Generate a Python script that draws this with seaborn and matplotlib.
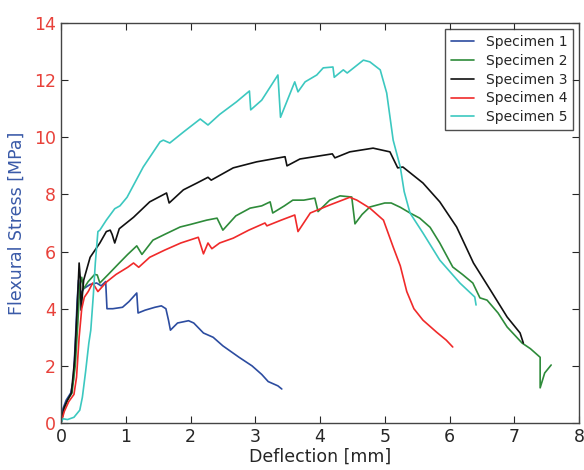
import matplotlib
matplotlib.use('Agg')
import matplotlib.pyplot as plt
import seaborn as sns

# 数据
spec1_x = [0, 0.03, 0.08, 0.15, 0.19, 0.22, 0.25, 0.27, 0.30, 0.35, 0.45, 0.55, 0.62, 0.69, 0.71,
           0.8, 0.95, 1.05, 1.17, 1.19, 1.3, 1.45, 1.55, 1.62, 1.66, 1.69, 1.8, 1.97, 2.05, 2.2,
           2.35, 2.5, 2.75, 2.95, 3.1, 3.2, 3.35, 3.41]
spec1_y = [0, 0.5, 0.8, 1.05, 1.5, 2.8, 4.3, 5.0, 4.5, 4.7, 4.85, 4.9, 4.8, 4.95, 4.0,
           4.0, 4.05, 4.25, 4.55, 3.85, 3.95, 4.05, 4.1, 4.0, 3.6, 3.25, 3.5, 3.58, 3.5, 3.15,
           3.0, 2.7, 2.3, 2.0, 1.7, 1.45, 1.3, 1.19]

spec2_x = [0, 0.05, 0.1, 0.17, 0.22, 0.26, 0.29, 0.32, 0.35, 0.42, 0.52, 0.56, 0.6, 0.73, 0.9,
           1.03, 1.17, 1.25, 1.42, 1.6, 1.84, 2.0, 2.25, 2.41, 2.5, 2.7, 2.92, 3.1, 3.23, 3.27,
           3.45, 3.58, 3.75, 3.92, 3.97, 4.15, 4.31, 4.49, 4.54, 4.65, 4.77, 5.0, 5.1, 5.24, 5.39,
           5.54, 5.7, 5.85, 6.05, 6.2, 6.36, 6.47, 6.58, 6.75, 6.89, 7.12, 7.25, 7.4, 7.4, 7.47,
           7.57]
spec2_y = [0, 0.5, 0.8, 1.05, 2.0, 3.5, 4.8, 5.1, 4.7, 4.95, 5.2, 5.18, 4.9, 5.2, 5.6,
           5.9, 6.2, 5.9, 6.4, 6.6, 6.86, 6.95, 7.1, 7.17, 6.75, 7.25, 7.52, 7.6, 7.74, 7.35,
           7.6, 7.8, 7.8, 7.87, 7.4, 7.8, 7.95, 7.91, 6.97, 7.3, 7.56, 7.7, 7.7, 7.55, 7.35,
           7.17, 6.85, 6.3, 5.46, 5.2, 4.9, 4.38, 4.3, 3.85, 3.36, 2.8, 2.6, 2.3, 1.23, 1.75,
           2.03]

spec3_x = [0, 0.05, 0.1, 0.16, 0.21, 0.25, 0.28, 0.3, 0.31, 0.35, 0.45, 0.6, 0.7, 0.76, 0.79,
           0.83, 0.9, 1.12, 1.37, 1.63, 1.67, 1.89, 2.1, 2.27, 2.32, 2.66, 3.02, 3.46, 3.49, 3.69,
           4.19, 4.23, 4.46, 4.82, 5.08, 5.2, 5.28, 5.59, 5.85, 6.11, 6.37, 6.63, 6.89, 7.09, 7.14]
spec3_y = [0, 0.55, 0.8, 1.05, 2.2, 4.0, 5.6, 5.0, 3.95, 5.0, 5.8, 6.3, 6.7, 6.75, 6.6,
           6.3, 6.8, 7.2, 7.74, 8.05, 7.7, 8.16, 8.4, 8.6, 8.5, 8.93, 9.14, 9.32, 9.0, 9.24,
           9.42, 9.28, 9.49, 9.62, 9.49, 8.93, 8.96, 8.4, 7.74, 6.86, 5.6, 4.66, 3.71, 3.15, 2.8]

spec4_x = [0, 0.05, 0.12, 0.2, 0.24, 0.28, 0.32, 0.36, 0.42, 0.49, 0.57, 0.7, 0.85, 1.03, 1.12,
           1.2, 1.37, 1.6, 1.85, 2.12, 2.2, 2.27, 2.33, 2.45, 2.66, 2.9, 3.15, 3.18, 3.4, 3.61,
           3.66, 3.85, 4.15, 4.46, 4.57, 4.77, 4.98, 5.13, 5.24, 5.34, 5.45, 5.59, 5.8, 5.95, 6.05]
spec4_y = [0, 0.4, 0.75, 1.0, 1.6, 3.0, 4.0, 4.4, 4.6, 4.9, 4.6, 4.93, 5.2, 5.45, 5.6,
           5.45, 5.8, 6.05, 6.3, 6.5, 5.92, 6.3, 6.1, 6.3, 6.47, 6.75, 7.0, 6.9, 7.1, 7.28,
           6.7, 7.35, 7.63, 7.9, 7.8, 7.52, 7.1, 6.16, 5.5, 4.6, 4.0, 3.6, 3.18, 2.9, 2.66]

spec5_x = [0, 0.03, 0.1, 0.2, 0.29, 0.33, 0.38, 0.43, 0.46, 0.5, 0.53, 0.57, 0.6, 0.7, 0.83,
           0.91, 1.02, 1.27, 1.53, 1.58, 1.68, 1.9, 2.15, 2.27, 2.45, 2.71, 2.91, 2.93, 3.1, 3.35,
           3.39, 3.61, 3.66, 3.77, 3.95, 4.05, 4.2, 4.22, 4.36, 4.42, 4.67, 4.77, 4.93, 5.03, 5.13,
           5.2, 5.24, 5.3, 5.39, 5.59, 5.85, 6.16, 6.39, 6.41]
spec5_y = [0, 0.15, 0.12, 0.2, 0.45, 0.9, 1.8, 2.8, 3.25, 4.5, 5.6, 6.7, 6.75, 7.1, 7.5,
           7.6, 7.9, 8.96, 9.84, 9.9, 9.8, 10.2, 10.64, 10.43, 10.8, 11.24, 11.62, 10.96, 11.3, 12.18,
           10.7, 11.94, 11.59, 11.94, 12.18, 12.43, 12.46, 12.1, 12.36, 12.25, 12.7, 12.64, 12.36, 11.55, 9.9,
           9.3, 8.96, 8.1, 7.35, 6.65, 5.7, 4.9, 4.41, 4.13]

labels = ['Specimen 1', 'Specimen 2', 'Specimen 3', 'Specimen 4', 'Specimen 5']
colors = ['#2c4ca0', '#2e8b3a', '#111111', '#f02a2a', '#3cc8c0']
series = [(spec1_x, spec1_y), (spec2_x, spec2_y), (spec3_x, spec3_y),
          (spec4_x, spec4_y), (spec5_x, spec5_y)]

sns.set_style('ticks')
plt.rcParams['font.family'] = ['DejaVu Sans']

fig = plt.figure(figsize=(5.84, 4.70), dpi=100)
ax = fig.add_axes([61/584, 1 - 423/470, 518/584, 400/470])

for (xs, ys), lab, col in zip(series, labels, colors):
    sns.lineplot(x=xs, y=ys, ax=ax, color=col, label=lab, sort=False,
                 estimator=None, linewidth=1.2)

ax.set_xlim(0, 8)
ax.set_ylim(0, 14)
ax.set_xticks(range(0, 9))
ax.set_yticks(range(0, 15, 2))
ax.tick_params(direction='in', top=True, right=True, length=5, width=0.8,
               labelsize=12.5)
ax.tick_params(axis='y', labelcolor='#e8413a')
for s in ax.spines.values():
    s.set_color('#444444')
    s.set_linewidth(1.0)

ax.set_xlabel('Deflection [mm]', fontsize=12.5, labelpad=1)
ax.set_ylabel('Flexural Stress [MPa]', fontsize=12.5, color='#3a5aa8', labelpad=6)

leg = ax.legend(loc='upper right', fontsize=10, frameon=True, fancybox=False,
                handlelength=1.7, borderaxespad=0.45, labelspacing=0.35)
leg.get_frame().set_edgecolor('#222222')
leg.get_frame().set_linewidth(1.0)

plt.savefig('out.png', dpi=100)
plt.close()
